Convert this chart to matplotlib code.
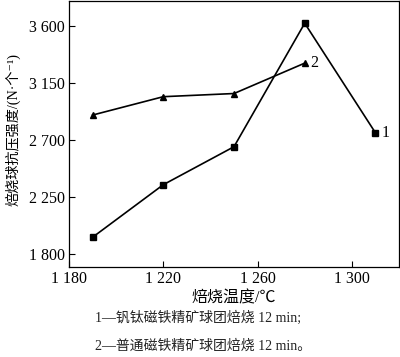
import matplotlib
matplotlib.use("Agg")
import matplotlib.pyplot as plt

plt.rcParams['font.family'] = ['Liberation Serif', 'Noto Sans CJK SC', 'DejaVu Serif']

# 焙烧温度 / 抗压强度
temp_1 = [1190, 1220, 1250, 1280, 1310]
strength_1 = [1935, 2350, 2650, 3625, 2760]
temp_2 = [1190, 1220, 1250, 1280]
strength_2 = [2900, 3045, 3070, 3310]

x_ticks = [1180, 1220, 1260, 1300]
x_tick_labels = ['1 180', '1 220', '1 260', '1 300']
y_ticks = [1800, 2250, 2700, 3150, 3600]
y_tick_labels = ['1 800', '2 250', '2 700', '3 150', '3 600']

fig = plt.figure(figsize=(4.0, 3.57), dpi=100)
ax = fig.add_axes([0.1725, 0.252, 0.825, 0.745])

ax.plot(temp_1, strength_1, color='black', lw=1.2, marker='s', ms=4)
ax.plot(temp_2, strength_2, color='black', lw=1.2, marker='^', ms=4)

ax.text(temp_1[-1] + 2.5, strength_1[-1], '1', fontsize=11.5, va='center', ha='left')
ax.text(temp_2[-1] + 2.5, strength_2[-1], '2', fontsize=11.5, va='center', ha='left')

ax.set_xlim(1180, 1320)
ax.set_ylim(1700, 3800)
ax.set_xticks(x_ticks)
ax.set_xticklabels(x_tick_labels, fontsize=11.5)
ax.set_yticks(y_ticks)
ax.set_yticklabels(y_tick_labels, fontsize=11.5)
ax.tick_params(direction='in', length=4, width=0.8, pad=3)
for s in ax.spines.values():
    s.set_linewidth(0.9)

fig.text(0.585, (357 - 298) / 357, '焙烧温度/℃', fontsize=11.5, ha='center', va='center')
fig.text(0.033, (357 - 129) / 357, '焙烧球抗压强度/(N·个⁻¹)', fontsize=10.2,
         ha='center', va='center', rotation=90)
fig.text(0.237, (357 - 318) / 357, '1—钒钛磁铁精矿球团焙烧 12 min;', fontsize=10,
         ha='left', va='center', color='#222222')
fig.text(0.237, (357 - 346) / 357, '2—普通磁铁精矿球团焙烧 12 min。', fontsize=10,
         ha='left', va='center', color='#222222')

fig.savefig('out.png', dpi=100)
